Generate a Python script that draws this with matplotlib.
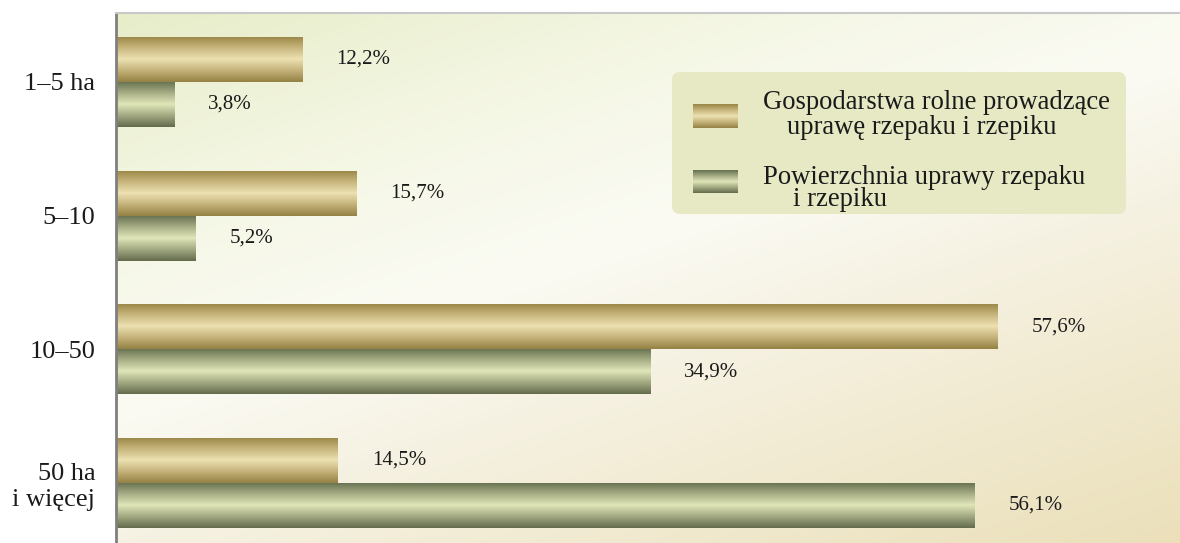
import numpy as np
import matplotlib.pyplot as plt
from matplotlib.colors import LinearSegmentedColormap
from matplotlib.patches import FancyBboxPatch

plt.rcParams['font.family'] = ['Liberation Serif', 'DejaVu Serif']

categories = ["1–5 ha", "5–10", "10–50", "50 ha\ni więcej"]
farms = [12.2, 15.7, 57.6, 14.5]
area = [3.8, 5.2, 34.9, 56.1]
farms_labels = ["12,2%", "15,7%", "57,6%", "14,5%"]
area_labels = ["3,8%", "5,2%", "34,9%", "56,1%"]
legend_farms = ["Gospodarstwa rolne prowadzące", "uprawę rzepaku i rzepiku"]
legend_area = ["Powierzchnia uprawy rzepaku", "i rzepiku"]

gold = LinearSegmentedColormap.from_list(
    "gold", ["#9a8646", "#c7b57c", "#ede1b2", "#c4b27a", "#958244"])
green = LinearSegmentedColormap.from_list(
    "green", ["#66704f", "#a6ad85", "#e0e6b8", "#a2a982", "#646c4e"])
bg = LinearSegmentedColormap.from_list(
    "bg", [(0, "#e7edc9"), (0.25, "#f5f7e5"), (0.45, "#fbfbf4"),
           (0.6, "#f6f2e3"), (1, "#ebe0ba")])

W, H = 1180, 543
fig = plt.figure(figsize=(W / 100, H / 100), dpi=100)
fig.patch.set_facecolor("white")
ax = fig.add_axes([116 / W, 0, 1 - 116 / W, (H - 13) / H])

xmax = (W - 116) / 15.31
ytop, ybot = -0.516, 3.449
ax.set_xlim(0, xmax)
ax.set_ylim(ybot, ytop)

# background gradient (diagonal)
gx, gy = np.meshgrid(np.linspace(0, 1, 300), np.linspace(0, 1, 300))
ax.imshow(0.4 * gx + 0.6 * gy, cmap=bg, extent=[0, xmax, ybot, ytop],
          aspect="auto", zorder=0, interpolation="bilinear", vmin=0, vmax=1)

grad = np.linspace(0, 1, 100).reshape(-1, 1)
h = 0.337
y = np.arange(len(categories))


def gradient_bars(vals, offs, cmap):
    bars = ax.barh(y + offs, vals, height=h, color="none", zorder=2)
    for b in bars:
        x0, y0 = b.get_x(), b.get_y()
        im = ax.imshow(grad, cmap=cmap, aspect="auto", zorder=2,
                       extent=[x0, x0 + b.get_width(), y0 + h, y0],
                       interpolation="bilinear")
        im.set_clip_path(b)
    return bars


gradient_bars(farms, -h / 2, gold)
gradient_bars(area, h / 2, green)
ax.set_xlim(0, xmax)
ax.set_ylim(ybot, ytop)

for i in range(len(categories)):
    ax.text(farms[i] + 2.2, y[i] - h / 2, farms_labels[i], va="center",
            ha="left", fontsize=15, color="#1a1a1a", zorder=3)
    ax.text(area[i] + 2.2, y[i] + h / 2, area_labels[i], va="center",
            ha="left", fontsize=15, color="#1a1a1a", zorder=3)

ax.set_yticks(y)
ax.set_yticklabels(categories, fontsize=19, color="#1a1a1a")
ax.tick_params(axis="y", length=0, pad=15)
ax.set_xticks([])
for s in ["right", "bottom"]:
    ax.spines[s].set_visible(False)
ax.spines["top"].set_color("#c8c8c8")
ax.spines["top"].set_linewidth(1.5)
ax.spines["left"].set_color("#7f7f7f")
ax.spines["left"].set_linewidth(2)

# legend box
lw, lh = 462, 150
lax = fig.add_axes([668 / W, (H - 218) / H, lw / W, lh / H])
lax.set_xlim(0, lw)
lax.set_ylim(lh, 0)
lax.axis("off")
lax.add_patch(FancyBboxPatch((4, 4), lw - 8, lh - 8,
                             boxstyle="round,pad=0,rounding_size=8",
                             facecolor="#e6e9c3", edgecolor="none", zorder=1))
lax.imshow(grad, cmap=gold, aspect="auto", extent=[25, 70, 60, 37],
           interpolation="bilinear", zorder=2)
lax.imshow(grad, cmap=green, aspect="auto", extent=[25, 70, 125, 102],
           interpolation="bilinear", zorder=2)
lax.set_xlim(0, lw)
lax.set_ylim(lh, 0)
fs = 19.2
lax.text(95, 35, legend_farms[0], fontsize=fs, va="center", color="#1a1a1a")
lax.text(119, 60, legend_farms[1], fontsize=fs, va="center", color="#1a1a1a")
lax.text(95, 109, legend_area[0], fontsize=fs, va="center", color="#1a1a1a")
lax.text(125, 132, legend_area[1], fontsize=fs, va="center", color="#1a1a1a")

fig.savefig("out.png", dpi=100)
